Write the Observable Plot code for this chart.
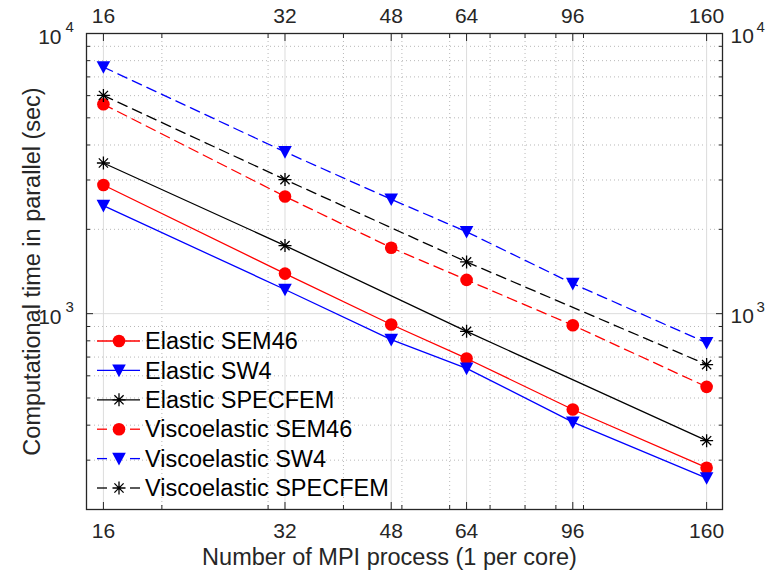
<!DOCTYPE html>
<html><head><meta charset="utf-8">
<script src="https://cdn.jsdelivr.net/npm/d3@7"></script>
<script src="https://cdn.jsdelivr.net/npm/@observablehq/plot@0.6"></script>
<style>
body{margin:0;background:#fff}
#wrap{position:relative;width:768px;height:576px;overflow:hidden}
</style>
</head><body><div id="wrap"></div>
<script>
// ---- data ----
const processes = [16, 32, 48, 64, 96, 160];
const specfemProcesses = [16, 32, 64, 160];
const elasticSEM46 = [2880, 1390, 915, 692, 455, 282];
const elasticSW4 = [2430, 1220, 808, 638, 410, 259];
const elasticSPECFEM = [3450, 1750, 865, 352];
const viscoSEM46 = [5590, 2620, 1720, 1320, 909, 548];
const viscoSW4 = [7590, 3780, 2560, 1960, 1280, 787];
const viscoSPECFEM = [6010, 3010, 1530, 658];
const seriesNames = ["Elastic SEM46", "Elastic SW4", "Elastic SPECFEM",
  "Viscoelastic SEM46", "Viscoelastic SW4", "Viscoelastic SPECFEM"];
const xTicks = [16, 32, 48, 64, 96, 160];
const xMinorTicks = [20, 30, 40, 50, 60, 70, 80, 90, 100];
const yTicks = [1000, 10000];
const yMinorTicks = [200, 300, 400, 500, 600, 700, 800, 900, 2000, 3000, 4000, 5000, 6000, 7000, 8000, 9000];
const xLabel = "Number of MPI process (1 per core)";
const yLabel = "Computational time in parallel (sec)";

// ---- styles ----
const RED = "#ff0000", BLUE = "#0000ff", BLACK = "#000000";
const DASH = "10,6";
const series = [
  {name: seriesNames[0], xs: processes, ys: elasticSEM46, color: RED, dash: null, marker: "circle"},
  {name: seriesNames[1], xs: processes, ys: elasticSW4, color: BLUE, dash: null, marker: "tri"},
  {name: seriesNames[2], xs: specfemProcesses, ys: elasticSPECFEM, color: BLACK, dash: null, marker: "star"},
  {name: seriesNames[3], xs: processes, ys: viscoSEM46, color: RED, dash: DASH, marker: "circle"},
  {name: seriesNames[4], xs: processes, ys: viscoSW4, color: BLUE, dash: DASH, marker: "tri"},
  {name: seriesNames[5], xs: specfemProcesses, ys: viscoSPECFEM, color: BLACK, dash: DASH, marker: "star"}
];

const triDown = {draw(ctx, size) {
  const r = Math.sqrt(size / Math.PI);
  ctx.moveTo(-r, -0.85 * r); ctx.lineTo(r, -0.85 * r); ctx.lineTo(0, 1.0 * r); ctx.closePath();
}};
const star8 = {draw(ctx, size) {
  const r = Math.sqrt(size / Math.PI), d = r * Math.SQRT1_2;
  ctx.moveTo(-r, 0); ctx.lineTo(r, 0); ctx.moveTo(0, -r); ctx.lineTo(0, r);
  ctx.moveTo(-d, -d); ctx.lineTo(d, d); ctx.moveTo(-d, d); ctx.lineTo(d, -d);
}};

function markerMark(data, s) {
  if (s.marker === "circle") return Plot.dot(data, {x: "x", y: "y", r: 6.3, fill: s.color, stroke: "none"});
  if (s.marker === "tri") return Plot.dot(data, {x: "x", y: "y", r: 6.8, symbol: triDown, fill: s.color, stroke: "none"});
  return Plot.dot(data, {x: "x", y: "y", r: 6.5, symbol: star8, fill: "none", stroke: s.color, strokeWidth: 1.3});
}

const seriesMarks = series.flatMap(s => {
  const data = s.xs.map((x, i) => ({x, y: s.ys[i]}));
  return [
    Plot.line(data, {x: "x", y: "y", stroke: s.color, strokeWidth: 1.3, strokeDasharray: s.dash}),
    markerMark(data, s)
  ];
});

const AX = "#262626";
const FONT = "'Liberation Sans', Arial, Helvetica, sans-serif";
const TICK_FS = 21, SUP_FS = 15, LABEL_FS = 23.5, LEGEND_FS = 23.5;
const chart = Plot.plot({
  width: 768, height: 576,
  marginTop: 33, marginRight: 46, marginBottom: 67, marginLeft: 86,
  x: {type: "log", domain: [15, 170], label: null},
  y: {type: "log", domain: [200, 10000], label: null},
  style: {fontFamily: FONT, background: "#fff", color: AX, overflow: "visible"},
  marks: [
    Plot.gridX(xMinorTicks, {stroke: "#b8b8b8", strokeOpacity: 1, strokeDasharray: "1,3"}),
    Plot.gridY(yMinorTicks, {stroke: "#b8b8b8", strokeOpacity: 1, strokeDasharray: "1,3"}),
    Plot.gridX(xTicks, {stroke: "#dcdcdc", strokeOpacity: 1}),
    Plot.gridY(yTicks, {stroke: "#dcdcdc", strokeOpacity: 1}),
    ...seriesMarks,
    // inward ticks
    Plot.axisX(xTicks, {anchor: "bottom", tickSize: -7, tickFormat: () => "", label: null, stroke: AX}),
    Plot.axisX(xTicks, {anchor: "top", tickSize: -7, tickFormat: () => "", label: null, stroke: AX}),
    Plot.axisX(xMinorTicks, {anchor: "bottom", tickSize: -4, tickFormat: () => "", label: null, stroke: AX}),
    Plot.axisX(xMinorTicks, {anchor: "top", tickSize: -4, tickFormat: () => "", label: null, stroke: AX}),
    Plot.axisY(yTicks, {anchor: "left", tickSize: -7, tickFormat: () => "", label: null, stroke: AX}),
    Plot.axisY(yTicks, {anchor: "right", tickSize: -7, tickFormat: () => "", label: null, stroke: AX}),
    Plot.axisY(yMinorTicks, {anchor: "left", tickSize: -4, tickFormat: () => "", label: null, stroke: AX}),
    Plot.axisY(yMinorTicks, {anchor: "right", tickSize: -4, tickFormat: () => "", label: null, stroke: AX}),
    // x tick labels
    Plot.axisX(xTicks, {anchor: "bottom", tickSize: 0, tickPadding: 14, tickFormat: d => String(d), label: null, fontSize: TICK_FS, fill: AX}),
    Plot.axisX(xTicks, {anchor: "top", tickSize: 0, tickPadding: 11, tickFormat: d => String(d), label: null, fontSize: TICK_FS, fill: AX}),
    // y tick labels 10^n
    Plot.text(yTicks, {y: d => d, frameAnchor: "left", text: () => "10", textAnchor: "end", dx: -25, dy: 4, fontSize: TICK_FS, fill: AX}),
    Plot.text(yTicks, {y: d => d, frameAnchor: "left", text: d => String(Math.round(Math.log10(d))), textAnchor: "start", dx: -21, dy: -6, fontSize: SUP_FS, fill: AX}),
    Plot.text(yTicks, {y: d => d, frameAnchor: "right", text: () => "10", textAnchor: "start", dx: 8, dy: 3, fontSize: TICK_FS, fill: AX}),
    Plot.text(yTicks, {y: d => d, frameAnchor: "right", text: d => String(Math.round(Math.log10(d))), textAnchor: "start", dx: 34, dy: -6, fontSize: SUP_FS, fill: AX}),
    // axis labels
    Plot.text([xLabel], {frameAnchor: "bottom", text: d => d, textAnchor: "middle", dx: -15, dy: 48, lineAnchor: "middle", fontSize: LABEL_FS, fill: AX}),
    Plot.text([yLabel], {frameAnchor: "left", text: d => d, textAnchor: "middle", rotate: -90, dx: -54, lineAnchor: "middle", fontSize: LABEL_FS, fill: AX}),
    Plot.frame({stroke: AX, strokeWidth: 1.3})
  ]
});
const wrap = document.getElementById("wrap");
wrap.appendChild(chart);

// ---- legend overlay (inside axes, lower left) ----
const lg = d3.create("svg").attr("width", 768).attr("height", 576)
  .style("position", "absolute").style("left", "0px").style("top", "0px").style("pointer-events", "none");
const L = {x0: 97, x1: 140, xm: 119, xt: 145, y0: 341, step: 29.4};
series.forEach((s, i) => {
  const y = L.y0 + i * L.step;
  const g = lg.append("g");
  if (s.dash) {
    g.append("line").attr("x1", L.x0).attr("x2", L.x0 + 10).attr("y1", y).attr("y2", y).attr("stroke", s.color).attr("stroke-width", 1.3);
    g.append("line").attr("x1", L.x1 - 10).attr("x2", L.x1).attr("y1", y).attr("y2", y).attr("stroke", s.color).attr("stroke-width", 1.3);
  } else {
    g.append("line").attr("x1", L.x0).attr("x2", L.x1).attr("y1", y).attr("y2", y).attr("stroke", s.color).attr("stroke-width", 1.3);
  }
  const sym = s.marker === "circle" ? d3.symbolCircle : s.marker === "tri" ? triDown : star8;
  const r = s.marker === "circle" ? 6.3 : s.marker === "tri" ? 6.8 : 6.5;
  g.append("path").attr("transform", `translate(${L.xm},${y})`)
    .attr("d", d3.symbol(sym, Math.PI * r * r)())
    .attr("fill", s.marker === "star" ? "none" : s.color)
    .attr("stroke", s.marker === "star" ? s.color : "none").attr("stroke-width", 1.3);
  g.append("text").attr("x", L.xt).attr("y", y).attr("dy", "0.35em")
    .attr("font-family", FONT).attr("font-size", LEGEND_FS).attr("fill", "#000").text(s.name);
});
wrap.appendChild(lg.node());
</script>
</body></html>
